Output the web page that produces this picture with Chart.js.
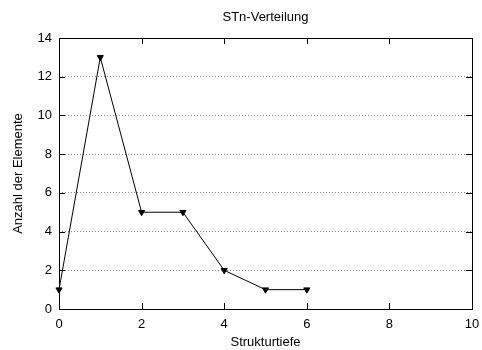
<!DOCTYPE html>
<html><head><meta charset="utf-8">
<script src="https://cdn.jsdelivr.net/npm/chart.js@4"></script>
<style>html,body{margin:0;padding:0;background:#fff}</style>
</head><body>
<canvas id="c" width="482" height="350"></canvas>
<script>
const depths = [0, 1, 2, 3, 4, 5, 6];
const counts = [1, 13, 5, 5, 2, 1, 1];
const xTicks = [0, 2, 4, 6, 8, 10];
const yTicks = [0, 2, 4, 6, 8, 10, 12, 14];
const titleText = 'STn-Verteilung';
const xTitle = 'Strukturtiefe';
const yTitle = 'Anzahl der Elemente';

const FONT = 'Liberation Sans, Arial, Helvetica, sans-serif';

const frame = {
  id: 'frame',
  afterDraw(chart) {
    const {ctx, chartArea: a, scales: {x, y}} = chart;
    ctx.save();
    ctx.strokeStyle = '#000';
    ctx.lineWidth = 1;
    ctx.beginPath();
    xTicks.forEach(v => {
      const px = Math.round(x.getPixelForValue(v)) + 0.5;
      if (v !== xTicks[0] && v !== xTicks[xTicks.length - 1]) {
        ctx.moveTo(px, a.bottom); ctx.lineTo(px, a.bottom - 6);
        ctx.moveTo(px, a.top); ctx.lineTo(px, a.top + 6);
      }
    });
    yTicks.forEach(v => {
      const py = Math.round(y.getPixelForValue(v)) + 0.5;
      if (v !== yTicks[0] && v !== yTicks[yTicks.length - 1]) {
        ctx.moveTo(a.left, py); ctx.lineTo(a.left + 6, py);
        ctx.moveTo(a.right, py); ctx.lineTo(a.right - 6, py);
      }
    });
    ctx.stroke();
    ctx.strokeRect(Math.round(a.left) + 0.5, Math.round(a.top) + 0.5,
                   Math.round(a.right - a.left), Math.round(a.bottom - a.top));
    // title centred over the plot area
    ctx.fillStyle = '#000';
    ctx.font = '13px ' + FONT;
    ctx.textAlign = 'center';
    ctx.textBaseline = 'middle';
    ctx.fillText(titleText, (a.left + a.right) / 2, 17);
    ctx.restore();
  }
};

new Chart(document.getElementById('c'), {
  type: 'scatter',
  data: {
    datasets: [{
      data: depths.map((d, i) => ({x: d, y: counts[i]})),
      showLine: true,
      clip: false,
      borderColor: '#000',
      backgroundColor: '#000',
      borderWidth: 1,
      pointStyle: 'triangle',
      rotation: 180,
      pointRadius: 3.5,
      pointHoverRadius: 3.5,
      pointBorderWidth: 1
    }]
  },
  options: {
    responsive: false,
    animation: false,
    devicePixelRatio: 1,
    layout: {padding: {top: 38, right: 10, bottom: 0, left: 0}},
    plugins: {
      legend: {display: false},
      tooltip: {enabled: false},
      title: {display: false}
    },
    scales: {
      x: {
        type: 'linear', min: 0, max: 10,
        afterFit(s) { s.height = 41; s.paddingRight = 0; s.paddingLeft = 0; },
        afterBuildTicks(s) { s.ticks = xTicks.map(v => ({value: v})); },
        grid: {display: false, drawTicks: false},
        border: {display: false},
        ticks: {color: '#000', padding: 8, maxRotation: 0,
                font: {family: FONT, size: 13}},
        title: {display: true, text: xTitle, color: '#000',
                font: {family: FONT, size: 13, lineHeight: 1.2},
                padding: {top: 0, bottom: 0}}
      },
      y: {
        type: 'linear', min: 0, max: 14,
        afterFit(s) { s.width = 59; s.paddingTop = 0; s.paddingBottom = 0; },
        afterBuildTicks(s) { s.ticks = yTicks.map(v => ({value: v})); },
        grid: {
          drawTicks: false,
          color: ctx => (ctx.tick && (ctx.tick.value === 0 || ctx.tick.value === 14)) ? 'rgba(0,0,0,0)' : '#888',
          lineWidth: 1
        },
        border: {display: false, dash: [1, 2]},
        ticks: {color: '#000', padding: 7,
                font: {family: FONT, size: 13}},
        title: {display: true, text: yTitle, color: '#000',
                font: {family: FONT, size: 13, lineHeight: 1.2},
                padding: {top: 11, bottom: 0}}
      }
    }
  },
  plugins: [frame]
});
</script>
</body></html>
